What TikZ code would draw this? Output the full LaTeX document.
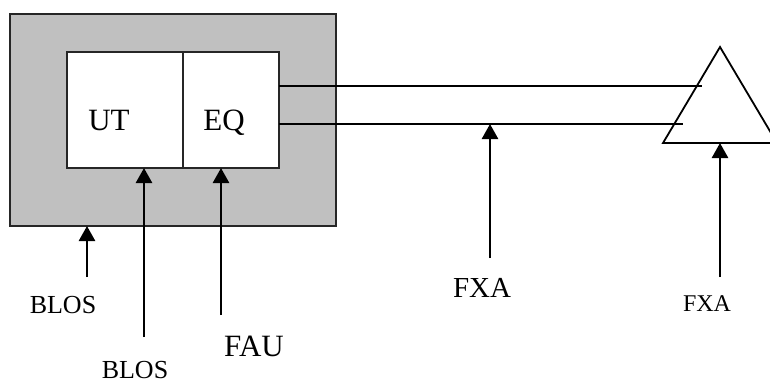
\documentclass[tikz,border=0pt]{standalone}
\usepackage{fontspec}
\setmainfont{Liberation Serif}
\usetikzlibrary{arrows.meta,positioning}
\definecolor{BLShell}{HTML}{C0C0C0}

\begin{document}
\begin{tikzpicture}[
  x=1pt,y=-1pt,
  shell/.style={draw=black!85,line width=1.8pt,fill=BLShell,minimum width=326pt,minimum height=212pt,inner sep=0pt,outer sep=0pt},
  cell/.style={draw=black!85,line width=1.8pt,fill=white,minimum height=116pt,inner sep=0pt,outer sep=0pt},
  lbl/.style={anchor=base,inner sep=0pt},
  wire/.style={line width=1.8pt,draw=black},
  arr/.style={-{Triangle[length=15pt,width=16pt]},line width=2.6pt,draw=black}
]
\useasboundingbox (0,0) rectangle (770,383);

\node[shell] (shell) at (173,120) {};
\node[cell,minimum width=116pt] (ut) at (125,110) {};
\node[cell,minimum width=96pt,right=0pt of ut] (eq) {};
\node[lbl,font=\fontsize{31}{31}\selectfont] (utlabel) at (109,130) {UT};
\node[lbl,font=\fontsize{31}{31}\selectfont] (eqlabel) at (224,130) {EQ};

% antenna
\coordinate (top) at (720,47);
\coordinate (baseleft) at (663,143);
\coordinate (baseright) at (777,143);
\draw[wire] (top) -- (baseleft) -- (baseright) -- cycle;

\coordinate (feedA) at (702,86);
\coordinate (feedB) at (683,124);
\draw[wire] (eq.east |- feedA) -- (feedA);
\draw[wire] (eq.east |- feedB) -- (feedB);

% labels
\node[lbl,font=\fontsize{26}{26}\selectfont] (blosa) at (63,313) {BLOS};
\node[lbl,font=\fontsize{26}{26}\selectfont] (blosb) at (135,378) {BLOS};
\node[lbl,font=\fontsize{31}{31}\selectfont] (fau) at (254,356) {FAU};
\node[lbl,font=\fontsize{29}{29}\selectfont] (fxaa) at (482,297) {FXA};
\node[lbl,font=\fontsize{24}{24}\selectfont] (fxab) at (707,311) {FXA};

% arrows
\coordinate (blosastart) at (87,277);
\coordinate (blosbstart) at (144,337);
\coordinate (faustart) at (221,315);
\coordinate (fxaastart) at (490,258);
\coordinate (fxabstart) at (720,277);

\draw[arr] (blosastart) -- (blosastart |- shell.south);
\draw[arr] (blosbstart) -- (blosbstart |- ut.south);
\draw[arr] (faustart) -- (faustart |- eq.south);
\draw[arr] (fxaastart) -- (fxaastart |- feedB);
\draw[arr] (fxabstart) -- (fxabstart |- baseleft);
\end{tikzpicture}
\end{document}
